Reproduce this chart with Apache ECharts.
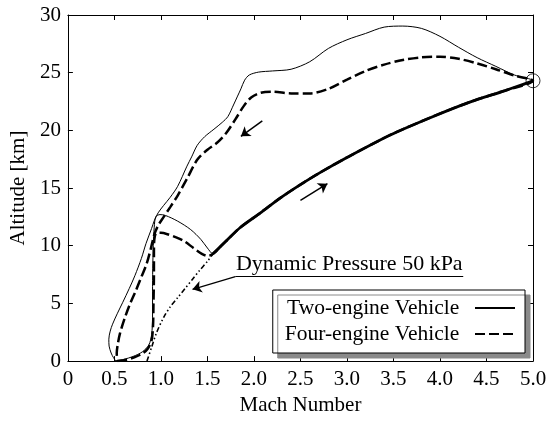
<!DOCTYPE html>
<html>
<head>
<meta charset="utf-8">
<script src="https://cdn.jsdelivr.net/npm/echarts@6/dist/echarts.min.js"></script>
<style>
html, body { margin: 0; padding: 0; background: #fff; }
#chart { width: 557px; height: 421px; }
</style>
</head>
<body>
<div id="chart"></div>
<script>
// Mach number / altitude trajectories of the two- and four-engine vehicles.

// Two-engine vehicle: take-off, subsonic climb and transonic dive
const twoAscentMach = [0.50, 0.60, 0.70, 0.80, 0.87, 0.90, 0.91, 0.91, 0.912, 0.918, 0.928, 0.945, 0.99, 1.05, 1.18, 1.32, 1.43, 1.50];
const twoAscentAlt  = [0.00, 0.15, 0.40, 0.80, 1.40, 2.30, 3.80, 6.00, 8.00, 10.00, 11.60, 12.50, 12.70, 12.62, 12.13, 11.40, 10.54, 9.80];

// Four-engine vehicle: take-off, subsonic climb and transonic dive
const fourAscentMach = [0.53, 0.63, 0.72, 0.80, 0.86, 0.90, 0.915, 0.92, 0.925, 0.925, 0.93, 0.95, 1.00, 1.07, 1.17, 1.25, 1.35, 1.44, 1.50];
const fourAscentAlt  = [0.00, 0.12, 0.35, 0.65, 1.10, 1.80, 3.00, 5.00, 7.50, 9.50, 10.60, 11.10, 11.12, 11.00, 10.70, 10.40, 9.80, 9.30, 9.12];

// Shared acceleration along the 50 kPa dynamic pressure limit up to Mach 5
const climbMach = [1.56, 1.70, 1.856, 2.07, 2.285, 2.50, 2.715, 3.00, 3.466, 3.895, 4.32, 4.70, 5.00];
const climbAlt  = [9.30, 10.40, 11.60, 12.85, 14.15, 15.30, 16.36, 17.65, 19.60, 21.10, 22.45, 23.45, 24.30];

// Two-engine vehicle: return flight and descent
const twoReturnMach = [4.80, 4.60, 4.40, 4.20, 4.00, 3.80, 3.60, 3.40, 3.20, 3.00, 2.80, 2.60, 2.40, 2.20, 2.05, 1.95, 1.90, 1.86, 1.82, 1.78, 1.72, 1.66, 1.57, 1.47, 1.39, 1.33, 1.28, 1.18, 1.10, 1.03, 0.97, 0.93, 0.90, 0.84, 0.79, 0.72, 0.66, 0.59, 0.53, 0.48, 0.455, 0.44, 0.443, 0.465, 0.49, 0.515];
const twoReturnAlt  = [24.80, 25.55, 26.30, 27.20, 28.15, 28.84, 29.04, 28.95, 28.40, 27.85, 27.10, 25.95, 25.30, 25.15, 25.05, 24.80, 24.35, 23.60, 22.90, 22.20, 21.20, 20.70, 20.10, 19.45, 18.70, 17.70, 16.90, 15.15, 14.20, 13.50, 12.85, 12.20, 11.50, 10.20, 8.90, 7.40, 6.30, 5.10, 4.10, 3.20, 2.60, 1.90, 1.30, 0.70, 0.30, 0.00];

// Four-engine vehicle: return flight and descent
const fourReturnMach = [4.80, 4.60, 4.40, 4.20, 4.00, 3.80, 3.60, 3.40, 3.20, 3.00, 2.80, 2.60, 2.40, 2.20, 2.07, 1.97, 1.89, 1.80, 1.70, 1.60, 1.50, 1.39, 1.28, 1.18, 1.10, 1.03, 0.97, 0.93, 0.89, 0.845, 0.79, 0.73, 0.665, 0.61, 0.56, 0.535, 0.525, 0.53];
const fourReturnAlt  = [24.75, 25.30, 25.80, 26.20, 26.38, 26.33, 26.10, 25.70, 25.15, 24.40, 23.60, 23.20, 23.20, 23.35, 23.25, 22.85, 22.10, 20.95, 19.75, 18.90, 18.32, 17.45, 15.80, 14.35, 13.35, 12.50, 11.75, 11.00, 9.70, 8.40, 7.30, 6.10, 4.90, 3.70, 2.40, 1.40, 0.70, 0.00];

// Dynamic pressure 50 kPa boundary below the climb
const qLimitMach = [0.85, 0.90, 0.95, 1.03, 1.10, 1.18, 1.26, 1.34, 1.42, 1.50, 1.56];
const qLimitAlt  = [0.00, 1.20, 2.40, 3.80, 4.70, 5.50, 6.30, 7.10, 7.90, 8.65, 9.30];

// Turn-around point at Mach 5
const turnMach = [5.0];
const turnAlt  = [24.3];

const seriesNames = ['Two-engine Vehicle', 'Four-engine Vehicle'];
const machTickStep = 0.5;
const altTickStep = 5;

const pair = (xs, ys) => xs.map((x, i) => [x, ys[i]]);

const twoEnginePath = pair(twoAscentMach, twoAscentAlt)
  .concat(pair(climbMach, climbAlt), pair(twoReturnMach, twoReturnAlt));
const fourEnginePath = pair(fourAscentMach, fourAscentAlt)
  .concat(pair(climbMach, climbAlt), pair(fourReturnMach, fourReturnAlt));

const FONT = 'Liberation Serif';
const black = '#000';

const baseX = {
  type: 'value', min: 0, max: 5, interval: machTickStep,
  axisLine: { show: true, onZero: false, lineStyle: { color: black, width: 1 } },
  axisTick: { show: true, inside: true, length: 5, lineStyle: { color: black, width: 1 } },
  splitLine: { show: false }
};
const baseY = {
  type: 'value', min: 0, max: 30, interval: altTickStep,
  axisLine: { show: true, onZero: false, lineStyle: { color: black, width: 1 } },
  axisTick: { show: true, inside: true, length: 5, lineStyle: { color: black, width: 1 } },
  splitLine: { show: false }
};

const chart = echarts.init(document.getElementById('chart'), null, { renderer: 'canvas' });

chart.setOption({
  animation: false,
  backgroundColor: '#fff',
  grid: { left: 67, right: 24, top: 15, bottom: 59 },
  xAxis: [
    Object.assign({}, baseX, {
      position: 'bottom',
      name: 'Mach Number', nameLocation: 'middle', nameGap: 31,
      nameTextStyle: { fontFamily: FONT, fontSize: 21, color: black },
      axisLabel: {
        margin: 8, fontFamily: FONT, fontSize: 21, color: black,
        formatter: v => (v === 0 ? '0' : v.toFixed(1))
      }
    }),
    Object.assign({}, baseX, { position: 'top', axisLabel: { show: false } })
  ],
  yAxis: [
    Object.assign({}, baseY, {
      position: 'left',
      name: 'Altitude [km]', nameLocation: 'middle', nameGap: 33,
      nameTextStyle: { fontFamily: FONT, fontSize: 21, color: black },
      axisLabel: { margin: 7, fontFamily: FONT, fontSize: 21, color: black }
    }),
    Object.assign({}, baseY, { position: 'right', axisLabel: { show: false } })
  ],
  legend: {
    data: seriesNames,
    orient: 'vertical',
    right: 32, top: 290,
    align: 'right',
    itemWidth: 40, itemHeight: 14, itemGap: 4,
    padding: [7, 9, 8, 12],
    backgroundColor: '#fff',
    borderColor: black, borderWidth: 1,
    shadowColor: '#8a8a8a', shadowBlur: 0, shadowOffsetX: 5, shadowOffsetY: 5,
    selectedMode: false,
    itemStyle: { opacity: 0 },
    formatter: name => name + '\u00a0\u00a0',
    textStyle: { fontFamily: FONT, fontSize: 21.5, color: black, lineHeight: 21 }
  },
  series: [
    {
      name: seriesNames[0], type: 'line', data: twoEnginePath,
      symbol: 'none', smooth: 0.3, z: 2, silent: true,
      lineStyle: { color: black, width: 1 }
    },
    {
      name: seriesNames[1], type: 'line', data: fourEnginePath,
      symbol: 'none', smooth: 0.3, z: 3, silent: true,
      lineStyle: { color: black, width: 2.5, type: [10, 4] }
    },
    {
      name: 'qLimit', type: 'line', data: pair(qLimitMach, qLimitAlt),
      symbol: 'none', smooth: 0.3, z: 2, silent: true,
      lineStyle: { color: black, width: 1.6, type: [5, 2.5, 1.5, 2.5, 1.5, 2.5] },
      markLine: {
        silent: true, animation: false,
        symbol: ['none', 'arrow'], symbolSize: 9,
        lineStyle: { color: black, width: 1.2, type: 'solid' },
        label: { show: false },
        emphasis: { disabled: true },
        data: [
          [{ coord: [1.80, 7.32] }, { coord: [1.34, 6.22] }],
          [
            { coord: [1.80, 7.32], symbol: 'none' },
            {
              coord: [4.25, 7.32], symbol: 'none',
              lineStyle: { width: 1 },
              label: {
                show: true, position: 'insideMiddleTop', distance: 1,
                formatter: 'Dynamic Pressure 50 kPa',
                fontFamily: FONT, fontSize: 22, color: black
              }
            }
          ]
        ]
      }
    },
    {
      name: 'climb', type: 'line', data: pair(climbMach, climbAlt),
      symbol: 'none', smooth: 0.3, z: 4, silent: true,
      lineStyle: { color: black, width: 2.8 },
      markLine: {
        silent: true, animation: false,
        symbol: ['none', 'arrow'], symbolSize: 9,
        lineStyle: { color: black, width: 1.5, type: 'solid' },
        label: { show: false },
        emphasis: { disabled: true },
        data: [
          [{ coord: [2.09, 20.83] }, { coord: [1.86, 19.48] }],
          [{ coord: [2.50, 13.94] }, { coord: [2.79, 15.38] }]
        ]
      }
    },
    {
      name: 'turn', type: 'scatter', data: pair(turnMach, turnAlt),
      symbol: 'circle', symbolSize: 14, clip: false, z: 5, silent: true,
      itemStyle: { color: 'transparent', borderColor: black, borderWidth: 1 }
    }
  ]
});
</script>
</body>
</html>
